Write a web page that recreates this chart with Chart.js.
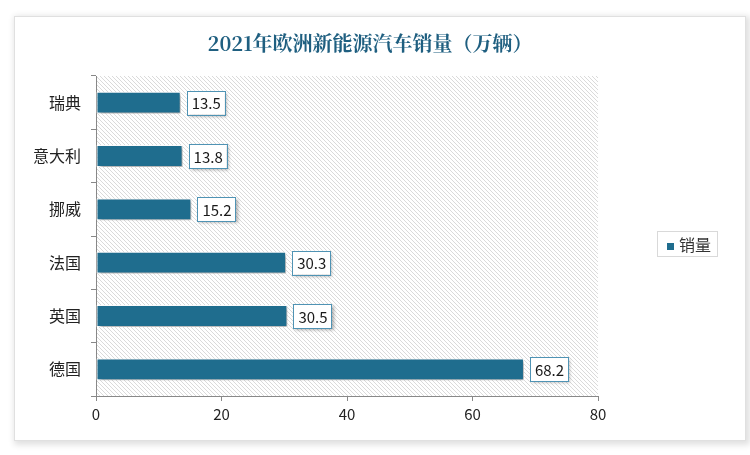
<!DOCTYPE html>
<html>
<head>
<meta charset="utf-8">
<script src="https://cdn.jsdelivr.net/npm/chart.js@4"></script>
<style>
  html, body { margin: 0; padding: 0; background: #ffffff; }
  #card {
    position: absolute; left: 14px; top: 16px; width: 730px; height: 423px;
    background: #fff; border: 1px solid #e0e0e0;
    box-shadow: 2px 2px 6px 2px rgba(0,0,0,0.12);
  }
  #wrap { position: absolute; left: 0; top: 0; width: 750px; height: 455px; }
</style>
</head>
<body>
<div id="card"></div>
<div id="wrap"><canvas id="chart" width="750" height="455"></canvas></div>
<script>
// data
const countries = ["瑞典", "意大利", "挪威", "法国", "英国", "德国"];
const sales = [13.5, 13.8, 15.2, 30.3, 30.5, 68.2];
const xTicks = [0, 20, 40, 60, 80];
const seriesName = "销量";
const chartTitle = "2021年欧洲新能源汽车销量（万辆）";

const barColor = "#1f6d8e";
const fontFamily = "'Noto Sans CJK SC', 'Noto Sans', sans-serif";

// hatched plot background
function hatchPattern(ctx) {
  const c = document.createElement("canvas");
  c.width = 4; c.height = 4;
  const g = c.getContext("2d");
  g.fillStyle = "#ffffff";
  g.fillRect(0, 0, 4, 4);
  g.strokeStyle = "#dadada";
  g.lineWidth = 1;
  g.beginPath();
  g.moveTo(-1, -1); g.lineTo(5, 5);
  g.moveTo(-1, 3); g.lineTo(1, 5);
  g.moveTo(3, -1); g.lineTo(5, 1);
  g.stroke();
  return ctx.createPattern(c, "repeat");
}

const backgroundPlugin = {
  id: "plotBg",
  beforeDraw(chart) {
    const { ctx, chartArea: a } = chart;
    ctx.save();
    ctx.fillStyle = hatchPattern(ctx);
    ctx.fillRect(a.left, a.top, a.right - a.left, a.bottom - a.top);
    ctx.restore();
  },
};

// title centred on the whole card, not the plot
const titlePlugin = {
  id: "cardTitle",
  afterDraw(chart) {
    const ctx = chart.ctx;
    ctx.save();
    ctx.font = "bold 20px 'Noto Serif CJK SC', 'DejaVu Serif', serif";
    ctx.fillStyle = "#1f5f80";
    ctx.textAlign = "center";
    ctx.textBaseline = "middle";
    ctx.fillText(chartTitle, chart.width / 2 - 5, 43);
    ctx.restore();
  },
};

// bar shadows
const shadowPlugin = {
  id: "barShadow",
  beforeDatasetsDraw(chart) {
    const ctx = chart.ctx;
    ctx.save();
    ctx.shadowColor = "rgba(0,0,0,0.35)";
    ctx.shadowBlur = 3;
    ctx.shadowOffsetX = 2;
    ctx.shadowOffsetY = 2;
  },
  afterDatasetsDraw(chart) {
    chart.ctx.restore();
  },
};

// value labels in boxes
const labelPlugin = {
  id: "valueLabels",
  afterDatasetsDraw(chart) {
    const ctx = chart.ctx;
    const meta = chart.getDatasetMeta(0);
    ctx.save();
    ctx.font = "15px " + fontFamily;
    meta.data.forEach((bar, i) => {
      const txt = sales[i].toFixed(1);
      const w = ctx.measureText(txt).width + 9;
      const h = 24;
      const x = bar.x + 6;
      const y = bar.y - h / 2;
      ctx.save();
      ctx.shadowColor = "rgba(0,0,0,0.3)";
      ctx.shadowBlur = 3;
      ctx.shadowOffsetX = 2;
      ctx.shadowOffsetY = 2;
      ctx.fillStyle = "#ffffff";
      ctx.fillRect(x, y, w, h);
      ctx.restore();
      ctx.strokeStyle = "#4f93b4";
      ctx.lineWidth = 1;
      ctx.strokeRect(Math.round(x) + 0.5, Math.round(y) + 0.5, Math.round(w), h);
      ctx.fillStyle = "#1a1a1a";
      ctx.textAlign = "center";
      ctx.textBaseline = "middle";
      ctx.fillText(txt, x + w / 2 + 0.5, bar.y + 1);
    });
    ctx.restore();
  },
};

// legend on the right, drawn by hand
const legendPlugin = {
  id: "sideLegend",
  afterDraw(chart) {
    const ctx = chart.ctx;
    const a = chart.chartArea;
    const left = Math.round(a.right + 59);
    const top = Math.round((a.top + a.bottom) / 2 - 5);
    ctx.save();
    ctx.font = "16px " + fontFamily;
    const tw = ctx.measureText(seriesName).width;
    const w = Math.round(10 + 7 + 5 + tw + 6);
    const h = 25;
    ctx.strokeStyle = "#d9d9d9";
    ctx.lineWidth = 1;
    ctx.strokeRect(left + 0.5, top + 0.5, w, h);
    ctx.fillStyle = barColor;
    ctx.fillRect(left + 10, top + 12, 7, 7);
    ctx.fillStyle = "#333";
    ctx.textBaseline = "middle";
    ctx.fillText(seriesName, left + 22, top + h / 2 + 1);
    ctx.restore();
  },
};

new Chart(document.getElementById("chart"), {
  type: "bar",
  data: {
    labels: countries,
    datasets: [
      {
        label: seriesName,
        data: sales,
        backgroundColor: barColor,
        borderColor: "#ffffff",
        borderWidth: 1,
        borderSkipped: false,
        categoryPercentage: 0.82,
        barPercentage: 0.5,
      },
    ],
  },
  options: {
    indexAxis: "y",
    responsive: false,
    animation: false,
    layout: { padding: { top: 76, left: 23, right: 152, bottom: 28 } },
    plugins: {
      title: { display: false },
      legend: { display: false },
      tooltip: { enabled: false },
    },
    scales: {
      x: {
        min: 0,
        max: 80,
        afterBuildTicks: (s) => { s.ticks = xTicks.map((v) => ({ value: v })); },
        grid: { drawOnChartArea: false, tickLength: 5, color: "#888" },
        border: { color: "#888" },
        ticks: { color: "#222", font: { family: fontFamily, size: 15 }, padding: 4 },
      },
      y: {
        grid: { drawOnChartArea: false, tickLength: 5, color: "#888", offset: true },
        border: { color: "#888" },
        ticks: { color: "#222", font: { family: fontFamily, size: 16 }, padding: 10 },
      },
    },
  },
  plugins: [backgroundPlugin, shadowPlugin, labelPlugin, legendPlugin, titlePlugin],
});
</script>
</body>
</html>
